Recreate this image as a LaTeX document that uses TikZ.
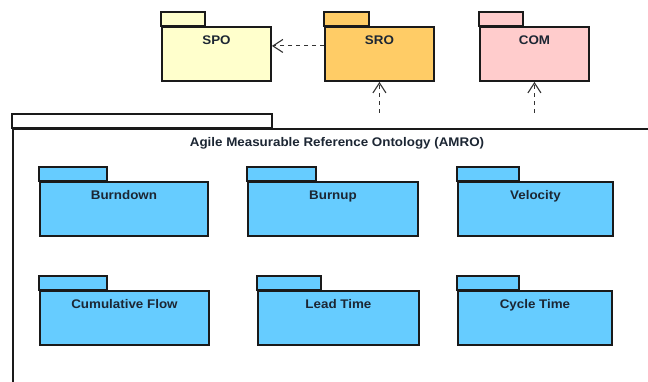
\documentclass[tikz,border=0pt]{standalone}
\usepackage{fontspec}
\setmainfont[FakeStretch=1.07]{Liberation Sans}
\usetikzlibrary{arrows.meta}
\definecolor{spoFill}{HTML}{FFFFCC}
\definecolor{sroFill}{HTML}{FFCC66}
\definecolor{comFill}{HTML}{FFCCCC}
\definecolor{pkgBlue}{HTML}{66CCFF}
\definecolor{lineDark}{HTML}{1A1A1A}
\definecolor{txtDark}{HTML}{1C2633}
\definecolor{depGray}{HTML}{333333}
\tikzset{
  pkgbody/.style={draw=lineDark, line width=1.9pt, rectangle, anchor=north west,
    minimum height=54pt, inner sep=0pt, text height=9pt, text depth=28pt,
    font=\fontsize{12.5}{15}\selectfont\bfseries, text=txtDark},
  pkgtab/.style={draw=lineDark, line width=1.9pt},
  frameline/.style={draw=lineDark, line width=1.9pt},
  titletext/.style={font=\fontsize{12.5}{15}\selectfont\bfseries, text=txtDark, anchor=base, inner sep=0pt},
  dep/.style={draw=depGray, line width=1pt, dash pattern=on 4pt off 4pt,
    -{Straight Barb[length=10pt,width=13pt,line width=1.1pt]}}
}
\begin{document}
\begin{tikzpicture}[x=1pt,y=-1pt]
\clip (0,0) rectangle (648,382);
\fill[white] (0,0) rectangle (648,382);
% outer AMRO package (extends beyond the picture)
\draw[frameline, fill=white] (12,114) rectangle (272,128);
\node[pkgbody, minimum width=700pt, minimum height=300pt, text height=0pt, text depth=0pt] (amro) at (12,128) {};
\node[titletext] (amroTitle) at (337,147) {Agile Measurable Reference Ontology (AMRO)};
% top packages
\node[pkgbody, fill=spoFill, minimum width=109pt] (spo) at (161,26) {SPO};
\draw[pkgtab, fill=spoFill] (spo.north west) rectangle ++(44,-14);
\node[pkgbody, fill=sroFill, minimum width=109pt] (sro) at (324,26) {SRO};
\draw[pkgtab, fill=sroFill] (sro.north west) rectangle ++(45,-14);
\node[pkgbody, fill=comFill, minimum width=109pt] (com) at (479,26) {COM};
\draw[pkgtab, fill=comFill] (com.north west) rectangle ++(44,-14);
% inner packages, row 1
\node[pkgbody, fill=pkgBlue, minimum width=168pt] (burndown) at (39,181) {Burndown};
\draw[pkgtab, fill=pkgBlue] (burndown.north west) rectangle ++(68,-14);
\node[pkgbody, fill=pkgBlue, minimum width=170pt] (burnup) at (247,181) {Burnup};
\draw[pkgtab, fill=pkgBlue] (burnup.north west) rectangle ++(69,-14);
\node[pkgbody, fill=pkgBlue, minimum width=155pt] (velocity) at (457,181) {Velocity};
\draw[pkgtab, fill=pkgBlue] (velocity.north west) rectangle ++(62,-14);
% inner packages, row 2
\node[pkgbody, fill=pkgBlue, minimum width=169pt] (cumflow) at (39,290) {Cumulative Flow};
\draw[pkgtab, fill=pkgBlue] (cumflow.north west) rectangle ++(68,-14);
\node[pkgbody, fill=pkgBlue, minimum width=161pt] (leadtime) at (257,290) {Lead Time};
\draw[pkgtab, fill=pkgBlue] (leadtime.north west) rectangle ++(64,-14);
\node[pkgbody, fill=pkgBlue, minimum width=154pt] (cycletime) at (457,290) {Cycle Time};
\draw[pkgtab, fill=pkgBlue] (cycletime.north west) rectangle ++(62,-14);
% dependencies
\draw[dep] ([yshift=8pt]sro.west) -- ([yshift=8pt]spo.east);
\coordinate (amroToSro) at (sro.south |- 0,113);
\coordinate (amroToCom) at (com.south |- 0,113);
\draw[dep] (amroToSro) -- (sro.south);
\draw[dep] (amroToCom) -- (com.south);
\end{tikzpicture}
\end{document}
